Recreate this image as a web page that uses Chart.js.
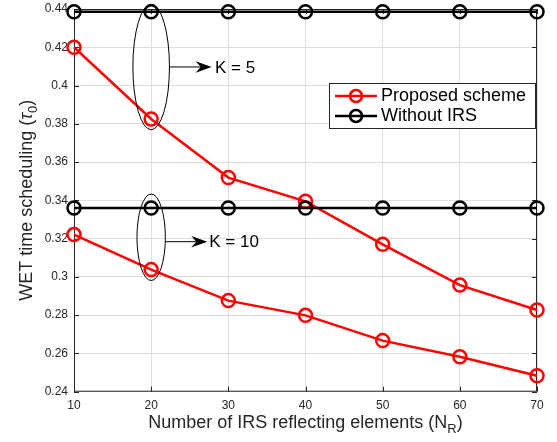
<!DOCTYPE html>
<html>
<head>
<meta charset="utf-8">
<script src="https://cdn.jsdelivr.net/npm/chart.js@4.4.1/dist/chart.umd.min.js"></script>
<style>
html, body { margin: 0; padding: 0; background: #fff; }
#wrap { width: 557px; height: 442px; }
</style>
</head>
<body>
<div id="wrap"><canvas id="chart" width="557" height="442"></canvas></div>
<script>
// number of IRS reflecting elements N_R
const elements = [10, 20, 30, 40, 50, 60, 70];

// WET time scheduling tau_0
const proposedK5 = [0.4200, 0.3825, 0.3519, 0.3395, 0.3170, 0.2957, 0.2827];
const proposedK10 = [0.3221, 0.3038, 0.2876, 0.2799, 0.2667, 0.2583, 0.2483];
const withoutIrsK5 = [0.4386, 0.4386, 0.4386, 0.4386, 0.4386, 0.4386, 0.4386];
const withoutIrsK10 = [0.3360, 0.3360, 0.3360, 0.3360, 0.3360, 0.3360, 0.3360];

const xTicks = [10, 20, 30, 40, 50, 60, 70];
const yTicks = [0.24, 0.26, 0.28, 0.3, 0.32, 0.34, 0.36, 0.38, 0.4, 0.42, 0.44];

// ellipse groups (data units): [cx, cy, rx, ry]
const groupEllipses = [[20, 0.4097, 2.37, 0.0328], [20, 0.3207, 1.84, 0.0226]];
// arrows: [x0, x1, y], labels placed after the tip
const groupArrows = [[22.35, 27.84, 0.4097], [21.79, 27.27, 0.3184]];
const groupLabels = ['K = 5', 'K = 10'];
const groupLabelX = [28.27, 27.53];

const FONT = '"Liberation Sans", Arial, Helvetica, sans-serif';
const AXIS_COLOR = '#262626';

function pts(ys) {
    return elements.map((x, i) => ({ x: x, y: ys[i] }));
}

function series(label, ys, color, order, showInLegend) {
    return {
        label: label,
        data: pts(ys),
        borderColor: color,
        backgroundColor: 'rgba(0,0,0,0)',
        borderWidth: 2.5,
        pointRadius: 6.5,
        pointBorderWidth: 2.5,
        pointBackgroundColor: 'rgba(0,0,0,0)',
        pointBorderColor: color,
        pointHoverRadius: 6.5,
        tension: 0,
        clip: false,
        order: order,
        inLegend: showInLegend
    };
}

// text made of parts: [text, kind], kind: 'n' normal, 'i' italic, 's' subscript
function drawRichText(ctx, parts, cx, baseline) {
    const fonts = { n: '18px ' + FONT, i: 'italic 18px ' + FONT, s: '13px ' + FONT };
    let total = 0;
    parts.forEach(p => { ctx.font = fonts[p[1]]; total += ctx.measureText(p[0]).width; });
    let x = cx - total / 2;
    ctx.textBaseline = 'alphabetic';
    ctx.textAlign = 'left';
    parts.forEach(p => {
        ctx.font = fonts[p[1]];
        const dy = p[1] === 's' ? 5 : 0;
        ctx.fillText(p[0], x, baseline + dy);
        x += ctx.measureText(p[0]).width;
    });
}

const framePlugin = {
    id: 'frame',
    beforeDatasetsDraw(chart) {
        const { ctx, chartArea: a, scales } = chart;
        ctx.save();
        ctx.strokeStyle = AXIS_COLOR;
        ctx.lineWidth = 1;
        ctx.strokeRect(a.left + 0.5, a.top + 0.5, a.right - a.left - 1, a.bottom - a.top - 1);
        // inward ticks like the original
        ctx.beginPath();
        scales.y.ticks.forEach(t => {
            const y = Math.round(scales.y.getPixelForValue(t.value)) + 0.5;
            ctx.moveTo(a.left, y); ctx.lineTo(a.left + 5, y);
            ctx.moveTo(a.right, y); ctx.lineTo(a.right - 5, y);
        });
        scales.x.ticks.forEach(t => {
            const x = Math.round(scales.x.getPixelForValue(t.value)) + 0.5;
            ctx.moveTo(x, a.bottom); ctx.lineTo(x, a.bottom - 5);
            ctx.moveTo(x, a.top); ctx.lineTo(x, a.top + 5);
        });
        ctx.stroke();
        ctx.restore();
    }
};

const notesPlugin = {
    id: 'notes',
    afterDatasetsDraw(chart) {
        const { ctx, scales: { x: sx, y: sy } } = chart;
        ctx.save();
        ctx.strokeStyle = '#000';
        ctx.fillStyle = '#000';
        ctx.lineWidth = 1;
        groupEllipses.forEach(e => {
            const cx = sx.getPixelForValue(e[0]);
            const cy = sy.getPixelForValue(e[1]);
            const rx = Math.abs(sx.getPixelForValue(e[0] + e[2]) - cx);
            const ry = Math.abs(sy.getPixelForValue(e[1] + e[3]) - cy);
            ctx.beginPath();
            ctx.ellipse(cx, cy, rx, ry, 0, 0, Math.PI * 2);
            ctx.stroke();
        });
        groupArrows.forEach((ar, i) => {
            const x0 = sx.getPixelForValue(ar[0]);
            const x1 = sx.getPixelForValue(ar[1]);
            const y = sy.getPixelForValue(ar[2]);
            ctx.beginPath();
            ctx.moveTo(x0, y); ctx.lineTo(x1 - 8, y);
            ctx.stroke();
            ctx.beginPath();
            ctx.moveTo(x1, y);
            ctx.lineTo(x1 - 16, y - 5.8);
            ctx.lineTo(x1 - 11, y);
            ctx.lineTo(x1 - 16, y + 5.8);
            ctx.closePath();
            ctx.fill();
            ctx.font = '17px ' + FONT;
            ctx.textAlign = 'left';
            ctx.textBaseline = 'middle';
            ctx.fillText(groupLabels[i], sx.getPixelForValue(groupLabelX[i]), y + 1);
        });
        ctx.restore();
    }
};

const legendPlugin = {
    id: 'boxLegend',
    afterDraw(chart) {
        const { ctx } = chart;
        const items = chart.data.datasets.filter(d => d.inLegend);
        const bx = 329, by = 83, bw = 206, bh = 45;
        ctx.save();
        ctx.fillStyle = '#fff';
        ctx.fillRect(bx, by, bw, bh);
        ctx.strokeStyle = AXIS_COLOR;
        ctx.lineWidth = 1;
        ctx.strokeRect(bx + 0.5, by + 0.5, bw, bh);
        items.forEach((d, i) => {
            const y = by + 13 + i * 20;
            ctx.strokeStyle = d.borderColor;
            ctx.lineWidth = 2.5;
            ctx.beginPath();
            ctx.moveTo(335, y); ctx.lineTo(377, y);
            ctx.stroke();
            ctx.beginPath();
            ctx.arc(356, y, 6, 0, Math.PI * 2);
            ctx.stroke();
            ctx.fillStyle = '#000';
            ctx.font = '18px ' + FONT;
            ctx.textAlign = 'left';
            ctx.textBaseline = 'middle';
            ctx.fillText(d.label, 381, y);
        });
        ctx.restore();
    }
};

const titlesPlugin = {
    id: 'axisTitles',
    afterDraw(chart) {
        const { ctx, chartArea: a } = chart;
        ctx.save();
        ctx.fillStyle = AXIS_COLOR;
        drawRichText(ctx, [['Number of IRS reflecting elements (N', 'n'], ['R', 's'], [')', 'n']],
            (a.left + a.right) / 2, 428);
        ctx.translate(0, (a.top + a.bottom) / 2);
        ctx.rotate(-Math.PI / 2);
        drawRichText(ctx, [['WET time scheduling (', 'n'], ['\u03C4', 'i'], ['0', 's'], [')', 'n']], 0, 31.5);
        ctx.restore();
    }
};

new Chart(document.getElementById('chart').getContext('2d'), {
    type: 'line',
    data: {
        datasets: [
            series('Proposed scheme', proposedK5, '#ff0000', 1, true),
            series('Proposed scheme', proposedK10, '#ff0000', 1, false),
            series('Without IRS', withoutIrsK5, '#000000', 0, true),
            series('Without IRS', withoutIrsK10, '#000000', 0, false)
        ]
    },
    options: {
        responsive: false,
        animation: false,
        events: [],
        layout: { padding: { left: 0, right: 20, top: 0, bottom: 0 } },
        plugins: {
            legend: { display: false },
            tooltip: { enabled: false }
        },
        scales: {
            x: {
                type: 'linear',
                min: 10,
                max: 70,
                afterBuildTicks: s => { s.ticks = xTicks.map(v => ({ value: v })); },
                afterFit: s => { s.height = 50.3; s.paddingLeft = 0; s.paddingRight = 0; },
                grid: { color: '#dedede', drawTicks: false },
                border: { display: false },
                ticks: {
                    padding: 7,
                    color: AXIS_COLOR,
                    font: { family: FONT, size: 12 },
                    maxRotation: 0
                }
            },
            y: {
                min: 0.24,
                max: 0.44,
                afterBuildTicks: s => { s.ticks = yTicks.map(v => ({ value: v })); },
                afterFit: s => { s.width = 74; s.paddingTop = 5; s.paddingBottom = 0; },
                grid: { color: '#dedede', drawTicks: false },
                border: { display: false },
                ticks: {
                    padding: 6,
                    color: AXIS_COLOR,
                    font: { family: FONT, size: 12 },
                    callback: v => String(Number(v.toFixed(2)))
                }
            }
        }
    },
    plugins: [framePlugin, notesPlugin, legendPlugin, titlesPlugin]
});
</script>
</body>
</html>
